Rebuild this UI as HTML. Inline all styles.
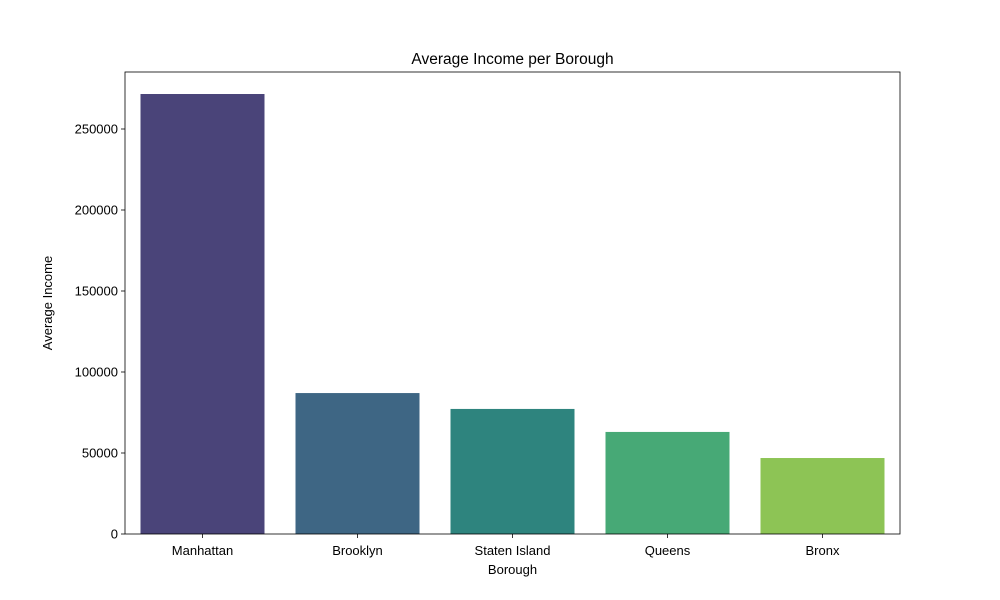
<!DOCTYPE html>
<html><head><meta charset="utf-8"><style>body{margin:0;background:#fff}svg{display:block;font-family:"Liberation Sans","DejaVu Sans",sans-serif}</style></head>
<body>
<svg id="chart" width="1000" height="600"></svg>
<script>
const categories=["Manhattan","Brooklyn","Staten Island","Queens","Bronx"];
const values=[271600,87000,77200,63000,46900];
const colors=["#4a4479","#3e6684","#2e847e","#47a976","#8dc455"];
const yTicks=[0,50000,100000,150000,200000,250000];
const L=125,R=900,T=72,B=534,yMax=285185;
const ns="http://www.w3.org/2000/svg";
const svg=document.getElementById("chart");
const x=i=>L+(i+0.5)*(R-L)/categories.length;
const y=v=>B-v/yMax*(B-T);
function mk(t,a,p){const e=document.createElementNS(ns,t);for(const k in a)e.setAttribute(k,a[k]);(p||svg).appendChild(e);return e;}
const bw=0.8*(R-L)/categories.length;
categories.forEach((c,i)=>{
 const r=mk("rect",{x:x(i)-bw/2,y:y(values[i]),width:bw,height:B-y(values[i]),fill:colors[i]});
 
 
 mk("line",{x1:x(i),x2:x(i),y1:B,y2:B+4,stroke:"#000","stroke-width":0.8});
 const t=mk("text",{x:x(i),y:B+21,"text-anchor":"middle","font-size":13});t.textContent=c;
 
 
});
yTicks.forEach(v=>{
 mk("line",{x1:L-4,x2:L,y1:y(v),y2:y(v),stroke:"#000","stroke-width":0.8});
 const t=mk("text",{x:L-7,y:y(v)+4.5,"text-anchor":"end","font-size":13});t.textContent=v;
 
 
});
const f=mk("rect",{x:L,y:T,width:R-L,height:B-T,fill:"none",stroke:"#000","stroke-width":0.8});


let t=mk("text",{x:(L+R)/2,y:64,"text-anchor":"middle","font-size":15.5});t.textContent="Average Income per Borough";


t=mk("text",{x:(L+R)/2,y:574,"text-anchor":"middle","font-size":13});t.textContent="Borough";


t=mk("text",{x:52,y:303,"text-anchor":"middle","font-size":13,transform:"rotate(-90 52 303)"});t.textContent="Average Income";


</script>
</body></html>
